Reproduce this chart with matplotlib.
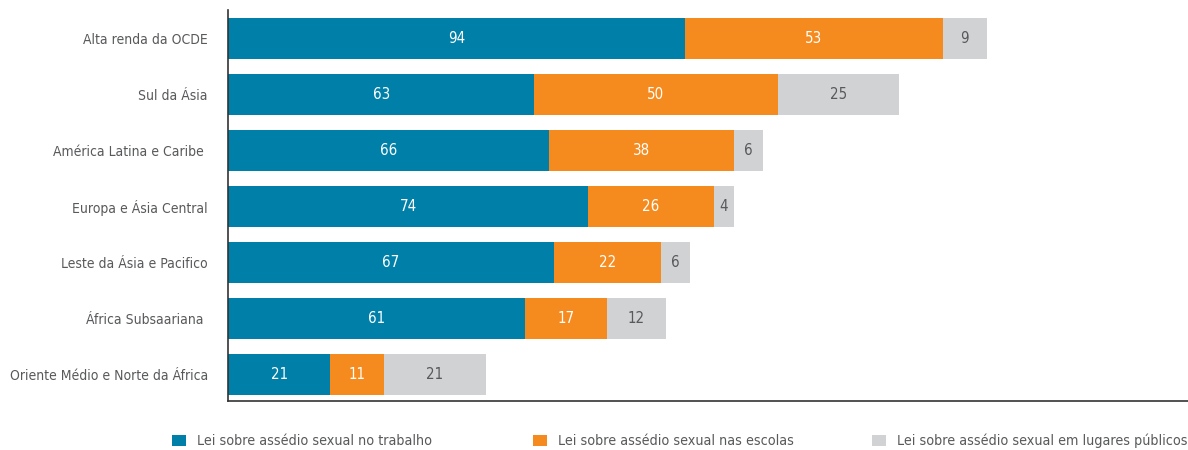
import matplotlib
matplotlib.use("Agg")
import matplotlib.pyplot as plt
from matplotlib import font_manager as fm

names = {f.name for f in fm.fontManager.ttflist}
fam = "Liberation Sans Narrow" if "Liberation Sans Narrow" in names else "DejaVu Sans"
plt.rcParams["font.family"] = [fam, "DejaVu Sans"]
if fam == "DejaVu Sans":
    plt.rcParams["font.stretch"] = "condensed"

categories = ["Alta renda da OCDE", "Sul da Ásia", "América Latina e Caribe ",
              "Europa e Ásia Central", "Leste da Ásia e Pacifico", "África Subsaariana ",
              "Oriente Médio e Norte da África"]
work = [94, 63, 66, 74, 67, 61, 21]
school = [53, 50, 38, 26, 22, 17, 11]
public = [9, 25, 6, 4, 6, 12, 21]
series_names = ["Lei sobre assédio sexual no trabalho",
                "Lei sobre assédio sexual nas escolas",
                "Lei sobre assédio sexual em lugares públicos"]
colors = ["#0080A8", "#F58B1F", "#D1D2D4"]
text_colors = ["white", "white", "#58595B"]

fig = plt.figure(figsize=(11.88, 4.5), dpi=100)
ax = fig.add_axes([228/1188, 49/450, 1 - 228/1188, 391/450])

y = list(range(len(categories)))
left = [0]*len(categories)
containers = []
for vals, c, tc in zip([work, school, public], colors, text_colors):
    bars = ax.barh(y, vals, left=left, height=0.73, color=c)
    containers.append(bars)
    ax.bar_label(bars, labels=[str(v) for v in vals], label_type="center",
                 color=tc, fontsize=10.8)
    left = [l + v for l, v in zip(left, vals)]

ax.set_yticks(y)
ax.set_yticklabels(categories, fontsize=10, color="#58595B")
ax.tick_params(axis="y", length=0, pad=14.4)
ax.set_xticks([])
ax.set_xlim(0, 197.4)
ax.set_ylim(6.47, -0.51)
for s in ["top", "right"]:
    ax.spines[s].set_visible(False)
for s in ["left", "bottom"]:
    ax.spines[s].set_color("#333333")
    ax.spines[s].set_linewidth(1.2)

xs = [172, 533, 872]
for bars, name, x in zip(containers, series_names, xs):
    fig.legend([bars], [name], loc="center left",
               bbox_to_anchor=(x/1188, 9/450), frameon=False,
               handlelength=1.0, handleheight=0.8, handletextpad=0.75,
               fontsize=10.3, labelcolor="#58595B", borderpad=0, borderaxespad=0)

fig.savefig("out.png", dpi=100)
